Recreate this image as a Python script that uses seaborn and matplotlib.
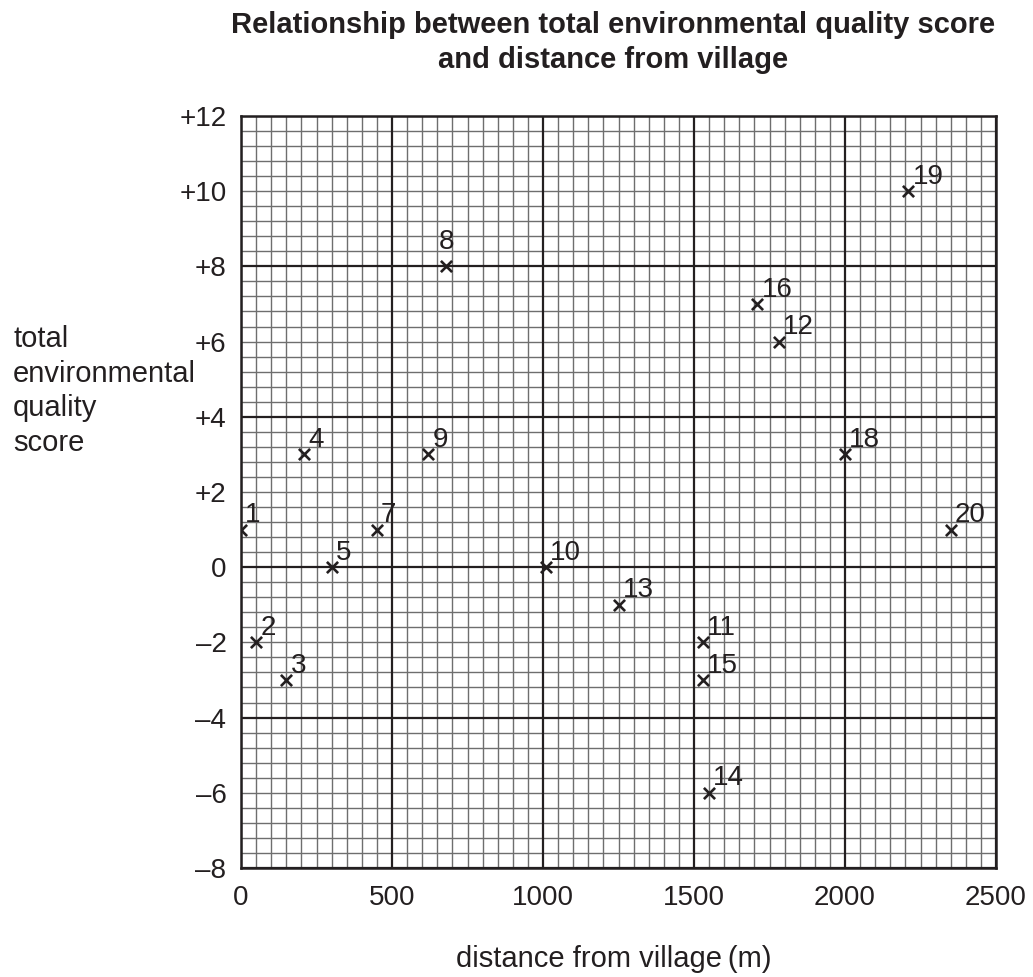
import numpy as np
import pandas as pd
import matplotlib
matplotlib.use("Agg")
import matplotlib.pyplot as plt
import seaborn as sns
from matplotlib.ticker import FuncFormatter


# Site data
site = [1, 2, 3, 4, 5, 7, 8, 9, 10, 11, 12, 13, 14, 15, 16, 18, 19, 20]
distance = [0, 50, 150, 210, 300, 450, 680, 620, 1010, 1530, 1780, 1250,
            1550, 1530, 1710, 2000, 2210, 2350]
score = [1, -2, -3, 3, 0, 1, 8, 3, 0, -2, 6, -1, -6, -3, 7, 3, 10, 1]

x_ticks = [0, 500, 1000, 1500, 2000, 2500]
y_ticks = [-8, -6, -4, -2, 0, 2, 4, 6, 8, 10, 12]

df = pd.DataFrame({"site": site, "distance": distance, "score": score})

sns.set_style("white")
plt.rcParams['font.family'] = ['Liberation Sans', 'DejaVu Sans']
ink = '#231f20'

fig = plt.figure(figsize=(10.33, 9.77), dpi=100)
ax = fig.add_axes([0.2333, 0.1116, 0.7309, 0.7697])

# graph paper grid
for xv in np.arange(0, 2501, 50):
    if xv % 500 == 0:
        ax.axvline(xv, color=ink, lw=1.6, zorder=1)
    else:
        ax.axvline(xv, color='#6e6e6e', lw=1.0, zorder=0)
for yv in np.arange(-8, 12.01, 0.4):
    yv = round(yv, 1)
    if abs(yv % 4) < 1e-6:
        ax.axhline(yv, color=ink, lw=1.6, zorder=1)
    else:
        ax.axhline(yv, color='#6e6e6e', lw=1.0, zorder=0)

sns.scatterplot(data=df, x="distance", y="score", marker='x', color=ink,
                s=65, linewidth=1.9, ax=ax, zorder=3)

# site numbers
for s, xv, yv in zip(site, distance, score):
    if s == 8:
        ax.annotate(str(s), (xv, yv), xytext=(0, 8), textcoords='offset points',
                    ha='center', va='bottom', fontsize=20, color=ink)
    else:
        ax.annotate(str(s), (xv, yv), xytext=(3, 1), textcoords='offset points',
                    ha='left', va='bottom', fontsize=20, color=ink)

ax.set_xlim(0, 2500)
ax.set_ylim(-8, 12)
ax.set_xticks(x_ticks)
ax.set_yticks(y_ticks)
ax.yaxis.set_major_formatter(FuncFormatter(
    lambda v, p: '0' if v == 0 else ('+%d' % v if v > 0 else '\u2013%d' % abs(v))))
ax.tick_params(axis='both', direction='out', length=6.5, width=1.5,
               labelsize=20, colors=ink)
ax.tick_params(axis='x', pad=6)
ax.tick_params(axis='y', pad=4)

for sp in ax.spines.values():
    sp.set_color(ink)
    sp.set_linewidth(1.8)
    sp.set_zorder(2)

ax.set_xlabel("")
ax.set_ylabel("")
fig.text(614 / 1033, 1 - 967 / 977, "distance from village\u2009(m)",
         fontsize=21, color=ink, ha='center', va='baseline')
fig.text(13 / 1033, 1 - 391 / 977, "total\nenvironmental\nquality\nscore",
         fontsize=21, color=ink, ha='left', va='center', linespacing=1.31)

fig.text(613 / 1033, 1 - 33 / 977,
         "Relationship between total environmental quality score",
         fontsize=21, fontweight='bold', color=ink, ha='center', va='baseline')
fig.text(613 / 1033, 1 - 68 / 977, "and distance from village",
         fontsize=21, fontweight='bold', color=ink, ha='center', va='baseline')

fig.savefig("out.png", dpi=100)
